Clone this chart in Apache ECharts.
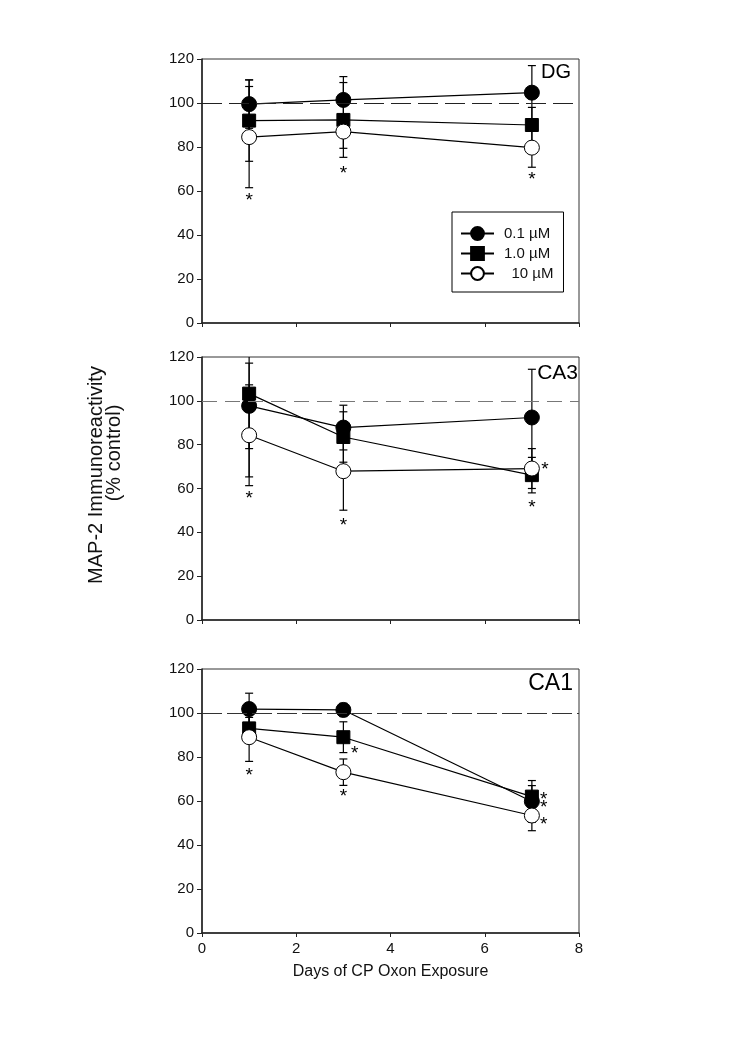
<!DOCTYPE html>
<html>
<head>
<meta charset="utf-8">
<script src="https://cdn.jsdelivr.net/npm/echarts@6/dist/echarts.min.js"></script>
<style>
html,body{margin:0;padding:0;background:#fff;}
#chart{width:750px;height:1045px;}
</style>
</head>
<body>
<div id="chart"></div>
<script>
// ---- data ----
const days = [1, 3, 7];
const seriesNames = ['0.1 µM', '1.0 µM', '10 µM'];
const xTicks = [0, 2, 4, 6, 8];
const yTicks = [0, 20, 40, 60, 80, 100, 120];
const controlLevel = 100;

// DG
const dgMean01 = [99.5, 101.4, 104.7];
const dgSd01   = [11, 10.6, 12.3];
const dgMean10 = [92, 92.3, 90];
const dgSd10   = [18.5, 17, 8];
const dgMean100 = [84.5, 87, 79.7];
const dgSd100   = [23, 7.6, 8.9];
const dgStars = [[1, 57.5], [3, 69.6], [7, 66.9]];

// CA3
const ca3Mean01 = [97.7, 87.8, 92.4];
const ca3Sd01   = [19.5, 10.2, 22];
const ca3Mean10 = [103.3, 83.5, 66.1];
const ca3Sd10   = [38, 11.5, 8.1];
const ca3Mean100 = [84.3, 67.9, 69.1];
const ca3Sd100   = [23, 17.8, 9.1];
const ca3Stars = [[1, 57], [3, 44.8], [7.28, 70.2], [7, 53.2]];

// CA1
const ca1Mean01 = [101.8, 101.4, 59.8];
const ca1Sd01   = [7.2, 3, 9.5];
const ca1Mean10 = [93, 89, 62];
const ca1Sd10   = [5, 7, 5];
const ca1Mean100 = [89, 73.1, 53.4];
const ca1Sd100   = [11, 6, 6.9];
const ca1Stars = [[1, 73.4], [3.24, 83.2], [3, 63.6], [7.25, 62.5], [7.25, 58.7], [7.25, 51]];

const panelLabels = ['DG', 'CA3', 'CA1'];

// ---- chart ----
const FONT = 'Liberation Sans, Arial, sans-serif';
const panels = [
  {means: [dgMean01, dgMean10, dgMean100], sds: [dgSd01, dgSd10, dgSd100], stars: dgStars,
   dash: [20, 7], dashColor: '#222'},
  {means: [ca3Mean01, ca3Mean10, ca3Mean100], sds: [ca3Sd01, ca3Sd10, ca3Sd100], stars: ca3Stars,
   dash: [15, 8], dashColor: '#777'},
  {means: [ca1Mean01, ca1Mean10, ca1Mean100], sds: [ca1Sd01, ca1Sd10, ca1Sd100], stars: ca1Stars,
   dash: [20, 5], dashColor: '#333'}
];
const gridTops = [59, 357, 669];
const gridHeights = [264, 263, 264];

const symbolDefs = [
  {symbol: 'circle', size: 15, fill: '#000'},
  {symbol: 'rect', size: 13, fill: '#000'},
  {symbol: 'circle', size: 15, fill: '#fff'}
];

const grids = [], xAxes = [], yAxes = [], series = [];
panels.forEach((p, gi) => {
  grids.push({left: 202, width: 377, top: gridTops[gi], height: gridHeights[gi],
    show: true, borderColor: '#333', borderWidth: 1, backgroundColor: 'transparent'});
  const last = gi === panels.length - 1;
  xAxes.push({
    type: 'value', gridIndex: gi, min: xTicks[0], max: xTicks[xTicks.length - 1], interval: xTicks[1] - xTicks[0],
    axisLine: {show: true, onZero: false, lineStyle: {color: '#222', width: 1.5}},
    axisTick: {show: true, length: 4, lineStyle: {color: '#222', width: 1}},
    splitLine: {show: false},
    axisLabel: {show: last, fontSize: 15, color: '#111', fontFamily: FONT, margin: 8},
    name: last ? 'Days of CP Oxon Exposure' : '',
    nameLocation: 'middle', nameGap: 31,
    nameTextStyle: {fontSize: 16, color: '#111', fontFamily: FONT}
  });
  yAxes.push({
    type: 'value', gridIndex: gi, min: yTicks[0], max: yTicks[yTicks.length - 1], interval: yTicks[1] - yTicks[0],
    axisLine: {show: true, onZero: false, lineStyle: {color: '#222', width: 1.5}},
    axisTick: {show: true, length: 5, lineStyle: {color: '#222', width: 1}},
    splitLine: {show: false},
    axisLabel: {fontSize: 15, color: '#111', fontFamily: FONT, margin: 8}
  });

  // error bars
  p.means.forEach((m, si) => {
    series.push({
      type: 'custom', xAxisIndex: gi, yAxisIndex: gi, clip: true, z: 2, silent: true,
      data: days.map((d, i) => [d, m[i] - p.sds[si][i], m[i] + p.sds[si][i]]),
      renderItem: (params, api) => {
        const lo = api.coord([api.value(0), api.value(1)]);
        const hi = api.coord([api.value(0), api.value(2)]);
        const hw = 4;
        const st = {stroke: '#000', lineWidth: 1.2};
        return {type: 'group', children: [
          {type: 'line', shape: {x1: lo[0], y1: lo[1], x2: hi[0], y2: hi[1]}, style: st},
          {type: 'line', shape: {x1: hi[0] - hw, y1: hi[1], x2: hi[0] + hw, y2: hi[1]}, style: st},
          {type: 'line', shape: {x1: lo[0] - hw, y1: lo[1], x2: lo[0] + hw, y2: lo[1]}, style: st}
        ]};
      }
    });
  });

  // lines with markers
  p.means.forEach((m, si) => {
    const sd = symbolDefs[si];
    const s = {
      type: 'line', name: seriesNames[si], xAxisIndex: gi, yAxisIndex: gi, z: 3 + si,
      data: days.map((d, i) => [d, m[i]]),
      symbol: sd.symbol, symbolSize: sd.size, showAllSymbol: true,
      lineStyle: {color: '#000', width: 1.2},
      itemStyle: {color: sd.fill, borderColor: '#000', borderWidth: 1},
      emphasis: {disabled: true}
    };
    if (si === 0) {
      s.markLine = {
        silent: true, symbol: 'none', label: {show: false},
        lineStyle: {color: p.dashColor, type: p.dash, width: 1.2},
        data: [{yAxis: controlLevel}]
      };
    }
    series.push(s);
  });

  // significance asterisks
  series.push({
    type: 'custom', xAxisIndex: gi, yAxisIndex: gi, z: 10, silent: true,
    data: p.stars,
    renderItem: (params, api) => {
      const c = api.coord([api.value(0), api.value(1)]);
      return {type: 'text', x: c[0], y: c[1] + 4,
        style: {text: '*', fontSize: 19, fontFamily: FONT, fill: '#000', align: 'center', verticalAlign: 'middle'}};
    }
  });
});

const option = {
  animation: false,
  backgroundColor: '#fff',
  grid: grids, xAxis: xAxes, yAxis: yAxes, series: series,
  legend: {
    data: seriesNames,
    left: 452, top: 212, orient: 'vertical',
    padding: [14, 10, 11, 8],
    borderColor: '#000', borderWidth: 1,
    itemWidth: 33, itemHeight: 16, itemGap: 5,
    selectedMode: false,
    formatter: n => n === '10 µM' ? '\u2002' + n : n,
    textStyle: {fontSize: 15, color: '#111', fontFamily: FONT, padding: [0, 0, 0, 5]}
  },
  graphic: [
    {type: 'text', x: 571, y: 72, style: {text: panelLabels[0], fontSize: 20, fontFamily: FONT, fill: '#000', align: 'right', verticalAlign: 'middle'}},
    {type: 'text', x: 578, y: 373, style: {text: panelLabels[1], fontSize: 21, fontFamily: FONT, fill: '#000', align: 'right', verticalAlign: 'middle'}},
    {type: 'text', x: 573, y: 684, style: {text: panelLabels[2], fontSize: 23, fontFamily: FONT, fill: '#000', align: 'right', verticalAlign: 'middle'}},
    {type: 'text', x: 96, y: 475, rotation: Math.PI / 2, style: {text: 'MAP-2 Immunoreactivity', fontSize: 20, fontFamily: FONT, fill: '#111', align: 'center', verticalAlign: 'middle'}},
    {type: 'text', x: 114, y: 453, rotation: Math.PI / 2, style: {text: '(% control)', fontSize: 20, fontFamily: FONT, fill: '#111', align: 'center', verticalAlign: 'middle'}}
  ]
};

const chart = echarts.init(document.getElementById('chart'), null, {renderer: 'canvas'});
chart.setOption(option);
</script>
</body>
</html>
